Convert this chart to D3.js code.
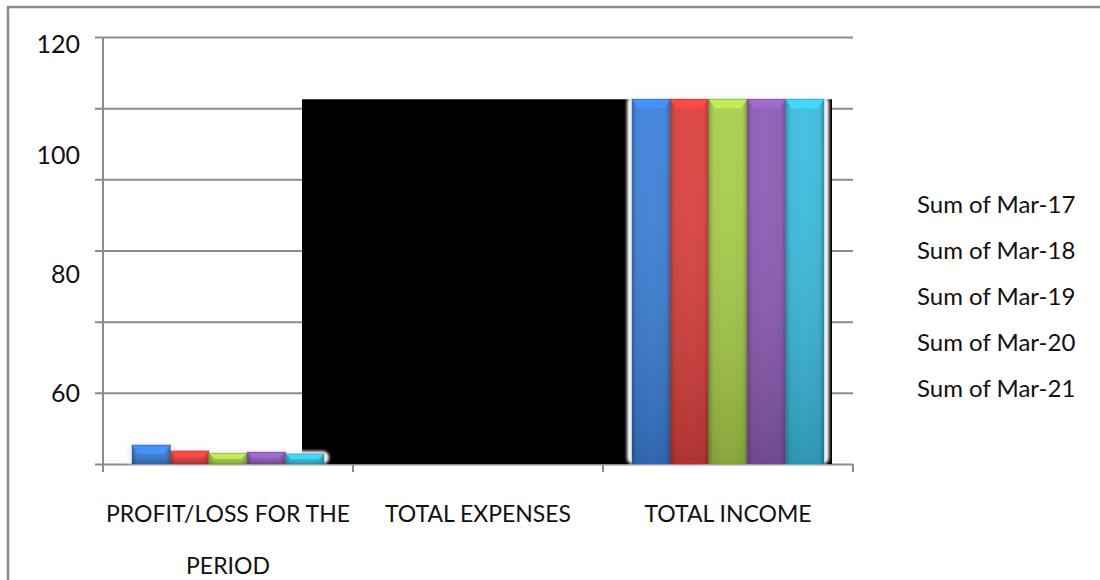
<!DOCTYPE html>
<html>
<head>
<meta charset="utf-8">
<script src="https://cdn.jsdelivr.net/npm/d3@7"></script>
<style>
	body { margin: 0; background: #fff; }
	text { font-family: Lato, "Open Sans", sans-serif; fill: #111; }
</style>
</head>
<body>
<div class="board"></div>
<script>
/////// DATA ///////////////////////////////////////

let categories = ['PROFIT/LOSS FOR THE PERIOD', 'TOTAL EXPENSES', 'TOTAL INCOME'];
let seriesNames = ['Sum of Mar-17', 'Sum of Mar-18', 'Sum of Mar-19', 'Sum of Mar-20', 'Sum of Mar-21'];
let profitLoss = [51.2, 50.2, 49.8, 50.0, 49.7];
let totalExpenses = [109.5, 109.5, 109.5, 109.5, 109.5];
let totalIncome = [109.5, 109.5, 109.5, 109.5, 109.5];
let gridTicks = [48, 60, 72, 84, 96, 108, 120];
let labelTicks = [60, 80, 100, 120];
let seriesColors = ['#3b7dd4', '#d63f3c', '#a6ca48', '#8a5ab2', '#39b8d9'];

/////// SETUP ///////////////////////////////////////

let svg = d3.select('.board').append('svg')
		.attr('width', 1100)
		.attr('height', 580);

let y = d3.scaleLinear().domain([48, 120]).range([464, 37]);
let x = d3.scaleBand().domain(categories).range([103, 853]);
let xs = d3.scaleBand().domain(seriesNames).range([29, 221]);

let defs = svg.append('defs');
seriesColors.forEach((c, i) => {
	let g = defs.append('linearGradient').attr('id', 'grad' + i)
			.attr('x1', 0).attr('x2', 1).attr('y1', 0).attr('y2', 0);
	let dark = d3.color(c).darker(0.7), light = d3.color(c).brighter(0.1);
	[[0, dark], [0.12, c], [0.5, light], [0.88, c], [1, dark]].forEach(s => {
		g.append('stop').attr('offset', s[0]).attr('stop-color', s[1]);
	});
});
let shade = defs.append('linearGradient').attr('id', 'shade')
		.attr('x1', 0).attr('x2', 0).attr('y1', 0).attr('y2', 1);
shade.append('stop').attr('offset', 0).attr('stop-color', '#fff').attr('stop-opacity', 0.05);
shade.append('stop').attr('offset', 1).attr('stop-color', '#000').attr('stop-opacity', 0.2);

let glow = defs.append('filter').attr('id', 'glow')
		.attr('x', '-20%').attr('y', '-20%').attr('width', '140%').attr('height', '140%');
glow.append('feGaussianBlur').attr('stdDeviation', 1.5);

// outer frame
svg.append('path')
		.attr('d', 'M8,580 V7 H1100')
		.attr('fill', 'none')
		.attr('stroke', '#8a8a8a')
		.attr('stroke-width', 2.5);

/////// AXES ///////////////////////////////////////

let grid = svg.append('g')
		.attr('transform', 'translate(103,0)')
		.call(d3.axisLeft(y).tickValues(gridTicks).tickSize(-750).tickFormat(''));
grid.select('.domain').remove();
grid.selectAll('line')
		.attr('x1', -8)
		.attr('stroke', '#8c8c8c')
		.attr('stroke-width', 2);

svg.append('line')
		.attr('x1', 103).attr('x2', 103)
		.attr('y1', y(120)).attr('y2', 472)
		.attr('stroke', '#8c8c8c').attr('stroke-width', 2);

let bounds = categories.map(c => x(c)).concat([x.range()[1]]);
svg.selectAll('.xtick').data(bounds).enter().append('line')
		.attr('x1', d => d).attr('x2', d => d)
		.attr('y1', y(48)).attr('y2', y(48) + 8)
		.attr('stroke', '#8c8c8c').attr('stroke-width', 2);

svg.selectAll('.ylabel').data(labelTicks).enter().append('text')
		.attr('x', 80)
		.attr('y', d => Math.max(y(d), 44))
		.attr('dy', '0.35em')
		.attr('text-anchor', 'end')
		.style('font-size', '25px')
		.text(d => d);

/////// BARS ///////////////////////////////////////

// expenses drawn as one solid black block
let expTop = y(d3.max(totalExpenses));
svg.append('rect')
		.attr('x', x('TOTAL EXPENSES') - 51)
		.attr('y', expTop)
		.attr('width', (x('TOTAL INCOME') + x.bandwidth() - 21) - (x('TOTAL EXPENSES') - 51))
		.attr('height', y(48) - expTop)
		.attr('fill', '#000');

let barData = [];
[['PROFIT/LOSS FOR THE PERIOD', profitLoss], ['TOTAL INCOME', totalIncome]].forEach(p => {
	p[1].forEach((v, i) => barData.push({ cat: p[0], s: seriesNames[i], i: i, v: v }));
});

svg.selectAll('.halo').data(barData).enter().append('rect')
		.attr('x', d => x(d.cat) + xs(d.s) - 5)
		.attr('y', d => y(d.v) - 3)
		.attr('width', xs.bandwidth() + 10)
		.attr('height', d => y(48) - y(d.v) + 3)
		.attr('rx', 6)
		.attr('fill', '#f4f5f7')
		.attr('filter', 'url(#glow)');

let bars = svg.selectAll('.bar').data(barData).enter().append('g');
bars.append('rect')
		.attr('x', d => x(d.cat) + xs(d.s))
		.attr('y', d => y(d.v))
		.attr('width', xs.bandwidth())
		.attr('height', d => y(48) - y(d.v))
		.attr('fill', d => `url(#grad${d.i})`);
bars.append('rect')
		.attr('x', d => x(d.cat) + xs(d.s))
		.attr('y', d => y(d.v))
		.attr('width', xs.bandwidth())
		.attr('height', d => y(48) - y(d.v))
		.attr('fill', 'url(#shade)');
// top bevel
bars.append('path')
		.attr('d', d => {
			let x0 = x(d.cat) + xs(d.s), x1 = x0 + xs.bandwidth(), t = y(d.v);
			let h = Math.min(9, (y(48) - t) / 2);
			return `M${x0},${t} H${x1} L${x1 - 6},${t + h} H${x0 + 6} Z`;
		})
		.attr('fill', d => d3.color(seriesColors[d.i]).brighter(0.45));
bars.append('rect')
		.attr('x', d => x(d.cat) + xs(d.s))
		.attr('y', d => y(d.v))
		.attr('width', xs.bandwidth())
		.attr('height', d => y(48) - y(d.v))
		.attr('fill', 'none')
		.attr('stroke', d => d3.color(seriesColors[d.i]).darker(1))
		.attr('stroke-opacity', 0.5);

/////// LABELS ///////////////////////////////////////

let wrap = function(text, width) {
	text.each(function() {
		let t = d3.select(this), words = t.text().split(' '), line = [], lines = [];
		words.forEach(w => {
			line.push(w);
			t.text(line.join(' '));
			if (this.getComputedTextLength() > width && line.length > 1) {
				line.pop();
				lines.push(line.join(' '));
				line = [w];
			}
		});
		lines.push(line.join(' '));
		t.text(null);
		lines.forEach((l, k) => {
			t.append('tspan').attr('x', t.attr('x')).attr('dy', k ? 52 : 0).text(l);
		});
	});
};

svg.selectAll('.xlabel').data(categories).enter().append('text')
		.attr('x', d => x(d) + x.bandwidth() / 2)
		.attr('y', 522)
		.attr('text-anchor', 'middle')
		.style('font-size', '23px')
		.text(d => d)
		.call(wrap, 270);

svg.selectAll('.legend').data(seriesNames).enter().append('text')
		.attr('x', 917)
		.attr('y', (d, i) => 205 + i * 45.8)
		.attr('dy', '0.35em')
		.style('font-size', '24px')
		.text(d => d);
</script>
</body>
</html>
